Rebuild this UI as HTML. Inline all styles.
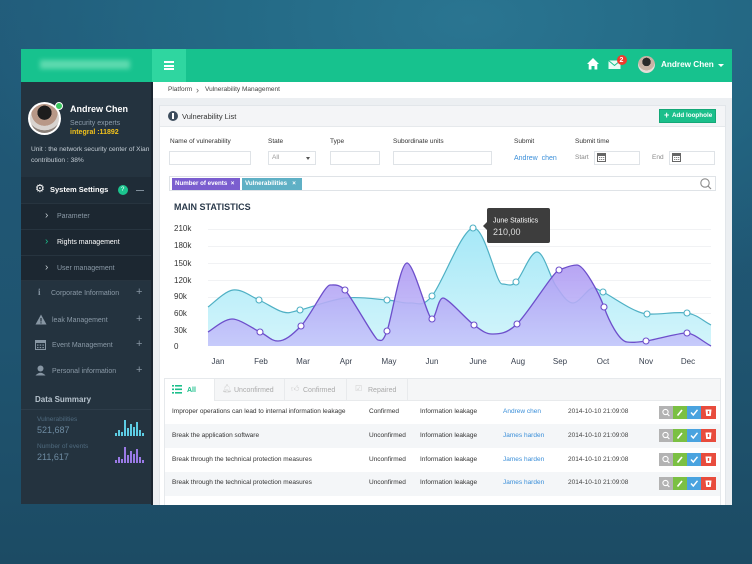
<!DOCTYPE html>
<html><head><meta charset="utf-8">
<style>
*{margin:0;padding:0;box-sizing:border-box}
html,body{width:752px;height:564px;overflow:hidden}
body{position:relative;font-family:"Liberation Sans",sans-serif;
background:radial-gradient(ellipse 520px 300px at 470px 20px,#2a7591 0%,#246a86 45%,rgba(33,90,118,0) 100%),
linear-gradient(180deg,#215a79 0%,#1f5470 60%,#1c4b64 100%);}
.a{position:absolute}
.t{position:absolute;white-space:nowrap;line-height:1}
.inp{position:absolute;background:#fff;border:1px solid #dfe3e7}
.row{position:absolute;left:165px;width:555px;height:24px}
</style></head><body>

<!-- header -->
<div class="a" style="left:21px;top:49px;width:711px;height:33px;background:#17c28e"></div>
<div class="a" style="left:40px;top:60px;width:90px;height:9px;background:#6fe0b7;filter:blur(2.5px);opacity:.8"></div>
<div class="a" style="left:152px;top:49px;width:34px;height:33px;background:#2fd6a0"></div>
<div class="a" style="left:164px;top:61px;width:10px;height:2px;background:#fff"></div>
<div class="a" style="left:164px;top:64.5px;width:10px;height:2px;background:#fff"></div>
<div class="a" style="left:164px;top:68px;width:10px;height:2px;background:#fff"></div>
<svg class="a" style="left:586px;top:57px" width="14" height="14" viewBox="0 0 14 14"><path d="M7 1 L13 7 L11.3 7 L11.3 12.5 L8.5 12.5 L8.5 9 L5.5 9 L5.5 12.5 L2.7 12.5 L2.7 7 L1 7 Z" fill="#fff"/></svg>
<svg class="a" style="left:608px;top:60px" width="14" height="10" viewBox="0 0 14 10"><rect x="0.5" y="0.5" width="12" height="8.5" fill="#e8fbf4"/><path d="M0.5 0.5 L6.5 5.5 L12.5 0.5" stroke="#17c28e" fill="none" stroke-width="1"/></svg>
<div class="a" style="left:617px;top:55px;width:10px;height:10px;border-radius:50%;background:#ef3b2d"></div>
<div class="t" style="left:619.5px;top:56.5px;font-size:7px;font-weight:bold;color:#fff">2</div>
<div class="a" style="left:638px;top:56px;width:17px;height:17px;border-radius:50%;background:radial-gradient(circle at 50% 35%,#2a2a2a 0 30%,#c9b3a5 31% 60%,#e5ddd8 61%)"></div>
<div class="t" style="left:661px;top:60.5px;font-size:8.2px;font-weight:bold;color:#fff">Andrew Chen</div>
<div class="a" style="left:718px;top:63.5px;width:0;height:0;border-left:3px solid transparent;border-right:3px solid transparent;border-top:3px solid #fff"></div>

<!-- sidebar -->
<div class="a" style="left:21px;top:82px;width:131px;height:422px;background:#24333f"></div>
<div class="a" style="left:151px;top:82px;width:2px;height:423px;background:#1a2530"></div>
<div class="a" style="left:28px;top:102px;width:33px;height:33px;border-radius:50%;background:#fff"></div>
<div class="a" style="left:30px;top:104px;width:29px;height:29px;border-radius:50%;background:radial-gradient(circle at 50% 30%,#1d1d1d 0 28%,#b89887 29% 52%,#d8d3cf 53% 70%,#8a8079 71%)"></div>
<div class="a" style="left:55px;top:102px;width:8px;height:8px;border-radius:50%;background:#39c75d;border:1.5px solid #fff"></div>
<div class="t" style="left:70px;top:104.5px;font-size:9px;font-weight:bold;color:#fff">Andrew Chen</div>
<div class="t" style="left:70px;top:119.5px;font-size:7px;color:#8d9dac">Security experts</div>
<div class="t" style="left:70px;top:128.5px;font-size:7px;font-weight:bold;color:#f2c21b">integral :11892</div>
<div class="t" style="left:31px;top:146.5px;font-size:6.6px;color:#c3ccd4">Unit : the network security center of Xian</div>
<div class="t" style="left:31px;top:157.5px;font-size:6.6px;color:#c3ccd4">contribution : 38%</div>

<div class="a" style="left:21px;top:177px;width:130px;height:26px;background:#1f2c37"></div>
<div class="a" style="left:21px;top:203px;width:130px;height:77px;background:#1c2731"></div>
<div class="a" style="left:21px;top:203px;width:130px;height:1px;background:#27343f"></div>
<div class="a" style="left:21px;top:229px;width:130px;height:1px;background:#27343f"></div>
<div class="a" style="left:21px;top:255px;width:130px;height:1px;background:#27343f"></div>
<div class="a" style="left:21px;top:280px;width:130px;height:1px;background:#27343f"></div>
<div class="t" style="left:35px;top:184px;font-size:11px;color:#fff">⚙</div>
<div class="t" style="left:50px;top:186px;font-size:7.5px;font-weight:bold;color:#fff">System Settings</div>
<div class="a" style="left:118px;top:185px;width:10px;height:10px;border-radius:50%;background:#1bc48e"></div>
<div class="t" style="left:121px;top:187px;font-size:6px;color:#fff">?</div>
<div class="a" style="left:136px;top:190px;width:8px;height:1px;background:#7f8e9a"></div>
<div class="t" style="left:45px;top:211px;font-size:10px;color:#c4ccd3">›</div>
<div class="t" style="left:57px;top:212.5px;font-size:7px;color:#8a99a6">Parameter</div>
<div class="t" style="left:45px;top:237px;font-size:10px;color:#1bc48e">›</div>
<div class="t" style="left:57px;top:238.5px;font-size:7px;color:#fff">Rights management</div>
<div class="t" style="left:45px;top:263px;font-size:10px;color:#c4ccd3">›</div>
<div class="t" style="left:57px;top:264.5px;font-size:7px;color:#8a99a6">User management</div>

<div class="t" style="left:38px;top:288px;font-size:9px;font-weight:bold;font-family:'Liberation Serif',serif;color:#8796a3">i</div>
<div class="t" style="left:51px;top:289.5px;font-size:7px;color:#8a99a6">Corporate Information</div>
<svg class="a" style="left:35px;top:314px" width="12" height="11"><path d="M6 0.5 L11.5 10.5 L0.5 10.5 Z" fill="#8796a3"/><rect x="5.4" y="4" width="1.2" height="3.5" fill="#24333f"/><rect x="5.4" y="8.3" width="1.2" height="1.2" fill="#24333f"/></svg>
<div class="t" style="left:52px;top:316.5px;font-size:7px;color:#8a99a6">leak Management</div>
<svg class="a" style="left:35px;top:339px" width="11" height="11"><rect x="0.5" y="1.5" width="10" height="9" fill="none" stroke="#8796a3"/><rect x="0.5" y="1.5" width="10" height="2.5" fill="#8796a3"/><g fill="#8796a3"><rect x="2" y="5.5" width="1.5" height="1.2"/><rect x="4.7" y="5.5" width="1.5" height="1.2"/><rect x="7.4" y="5.5" width="1.5" height="1.2"/><rect x="2" y="8" width="1.5" height="1.2"/><rect x="4.7" y="8" width="1.5" height="1.2"/><rect x="7.4" y="8" width="1.5" height="1.2"/></g></svg>
<div class="t" style="left:52px;top:341.5px;font-size:7px;color:#8a99a6">Event Management</div>
<svg class="a" style="left:35px;top:365px" width="11" height="11"><circle cx="5.5" cy="3.5" r="3" fill="#8796a3"/><path d="M0.5 10.5 Q5.5 5 10.5 10.5 Z" fill="#8796a3"/></svg>
<div class="t" style="left:52px;top:367.5px;font-size:7px;color:#8a99a6">Personal information</div>
<div class="t" style="left:136px;top:287px;font-size:11px;color:#8796a3">+</div>
<div class="t" style="left:136px;top:314px;font-size:11px;color:#8796a3">+</div>
<div class="t" style="left:136px;top:339px;font-size:11px;color:#8796a3">+</div>
<div class="t" style="left:136px;top:365px;font-size:11px;color:#8796a3">+</div>

<div class="t" style="left:35px;top:396px;font-size:8px;font-weight:bold;color:#b8c4ce">Data Summary</div>
<div class="a" style="left:21px;top:409px;width:130px;height:1px;background:#2e3d4a"></div>
<div class="t" style="left:37px;top:417px;font-size:6.5px;color:#4f6a7e">Vulnerabilities</div>
<div class="t" style="left:37px;top:425.5px;font-size:9px;color:#6d8aa0">521,687</div>
<div class="t" style="left:37px;top:444px;font-size:6.5px;color:#4f6a7e">Number of events</div>
<div class="t" style="left:37px;top:452.5px;font-size:9px;color:#6d8aa0">211,617</div>
<svg class="a" style="left:115px;top:418px" width="30" height="18"><g fill="#5dcde4"><rect x="0" y="15" width="2" height="3"/><rect x="3" y="12" width="2" height="6"/><rect x="6" y="14" width="2" height="4"/><rect x="9" y="2" width="2" height="16"/><rect x="12" y="10" width="2" height="8"/><rect x="15" y="6" width="2" height="12"/><rect x="18" y="9" width="2" height="9"/><rect x="21" y="4" width="2" height="14"/><rect x="24" y="12" width="2" height="6"/><rect x="27" y="15" width="2" height="3"/></g></svg>
<svg class="a" style="left:115px;top:445px" width="30" height="18"><g fill="#9a7ae6"><rect x="0" y="15" width="2" height="3"/><rect x="3" y="12" width="2" height="6"/><rect x="6" y="14" width="2" height="4"/><rect x="9" y="2" width="2" height="16"/><rect x="12" y="10" width="2" height="8"/><rect x="15" y="6" width="2" height="12"/><rect x="18" y="9" width="2" height="9"/><rect x="21" y="4" width="2" height="14"/><rect x="24" y="12" width="2" height="6"/><rect x="27" y="15" width="2" height="3"/></g></svg>

<!-- main area -->
<div class="a" style="left:153px;top:82px;width:579px;height:423px;background:#eceff2"></div>
<div class="a" style="left:153px;top:82px;width:579px;height:16px;background:#fff"></div>
<div class="t" style="left:168px;top:87px;font-size:6.5px;color:#444">Platform</div>
<div class="t" style="left:196px;top:85.5px;font-size:9px;color:#666">›</div>
<div class="t" style="left:205px;top:87px;font-size:6.5px;color:#444">Vulnerability Management</div>

<div class="a" style="left:159px;top:105px;width:567px;height:400px;background:#fff;border:1px solid #e2e6ea;border-bottom:none"></div>
<div class="a" style="left:160px;top:106px;width:565px;height:21px;background:#f4f5f7;border-bottom:1px solid #e6e9ec"></div>
<div class="a" style="left:168px;top:111px;width:10px;height:10px;border-radius:50%;background:#3d4d5d"></div>
<div class="a" style="left:172.3px;top:113px;width:1.5px;height:6px;background:#fff"></div>
<div class="t" style="left:182px;top:112.5px;font-size:7.5px;color:#333">Vulnerability List</div>
<div class="a" style="left:659px;top:109px;width:57px;height:14px;background:#1bbf8b;border:1px solid #14a877"></div>
<div class="t" style="left:664px;top:111px;font-size:9px;font-weight:bold;color:#fff">+</div>
<div class="t" style="left:672px;top:113px;font-size:6.3px;font-weight:bold;color:#fff">Add loophole</div>

<div class="t" style="left:170px;top:138.5px;font-size:6.5px;color:#333">Name of vulnerability</div>
<div class="t" style="left:268px;top:138.5px;font-size:6.5px;color:#333">State</div>
<div class="t" style="left:330px;top:138.5px;font-size:6.5px;color:#333">Type</div>
<div class="t" style="left:393px;top:138.5px;font-size:6.5px;color:#333">Subordinate units</div>
<div class="t" style="left:514px;top:138.5px;font-size:6.5px;color:#333">Submit</div>
<div class="t" style="left:575px;top:138.5px;font-size:6.5px;color:#333">Submit time</div>
<div class="inp" style="left:169px;top:151px;width:82px;height:14px"></div>
<div class="inp" style="left:268px;top:151px;width:48px;height:14px"></div>
<div class="t" style="left:272px;top:155px;font-size:6.5px;color:#999">All</div>
<div class="a" style="left:306px;top:157px;border-left:2.5px solid transparent;border-right:2.5px solid transparent;border-top:3px solid #555"></div>
<div class="inp" style="left:330px;top:151px;width:50px;height:14px"></div>
<div class="inp" style="left:393px;top:151px;width:99px;height:14px"></div>
<div class="t" style="left:514px;top:154.5px;font-size:7px;color:#3b8fd9">Andrew&nbsp; chen</div>
<div class="t" style="left:575px;top:155px;font-size:6.5px;color:#888">Start</div>
<div class="inp" style="left:594px;top:151px;width:46px;height:14px"></div>
<div class="t" style="left:652px;top:155px;font-size:6.5px;color:#888">End</div>
<div class="inp" style="left:669px;top:151px;width:46px;height:14px"></div>
<svg class="a" style="left:597px;top:153px" width="9" height="9"><rect x="0.5" y="0.5" width="8" height="8" fill="#fff" stroke="#666"/><rect x="0.5" y="0.5" width="8" height="2.5" fill="#666"/><g fill="#888"><rect x="2" y="4" width="1.3" height="1"/><rect x="4" y="4" width="1.3" height="1"/><rect x="6" y="4" width="1.3" height="1"/><rect x="2" y="6" width="1.3" height="1"/><rect x="4" y="6" width="1.3" height="1"/><rect x="6" y="6" width="1.3" height="1"/></g></svg>
<svg class="a" style="left:672px;top:153px" width="9" height="9"><rect x="0.5" y="0.5" width="8" height="8" fill="#fff" stroke="#666"/><rect x="0.5" y="0.5" width="8" height="2.5" fill="#666"/><g fill="#888"><rect x="2" y="4" width="1.3" height="1"/><rect x="4" y="4" width="1.3" height="1"/><rect x="6" y="4" width="1.3" height="1"/><rect x="2" y="6" width="1.3" height="1"/><rect x="4" y="6" width="1.3" height="1"/><rect x="6" y="6" width="1.3" height="1"/></g></svg>

<div class="inp" style="left:169px;top:176px;width:547px;height:15px"></div>
<div class="a" style="left:172px;top:178px;width:68px;height:12px;background:#7b5ecf"></div>
<div class="t" style="left:175px;top:180.5px;font-size:6.2px;font-weight:bold;color:#fff">Number of events&nbsp; ×</div>
<div class="a" style="left:242px;top:178px;width:60px;height:12px;background:#5fb0c5"></div>
<div class="t" style="left:245px;top:180.5px;font-size:6.2px;font-weight:bold;color:#fff">Vulnerabilities&nbsp;&nbsp; ×</div>
<svg class="a" style="left:699px;top:177px" width="13" height="13"><circle cx="6" cy="6" r="4.2" fill="none" stroke="#8a8a8a" stroke-width="1.1"/><path d="M9 9 L12 12" stroke="#8a8a8a" stroke-width="1.2"/></svg>

<!-- chart -->
<div class="t" style="left:174px;top:203px;font-size:9px;font-weight:bold;color:#2b3a4b">MAIN STATISTICS</div>
<div class="t" style="left:174px;top:225px;font-size:8px;color:#333">210k</div>
<div class="t" style="left:174px;top:242px;font-size:8px;color:#333">180k</div>
<div class="t" style="left:174px;top:259.5px;font-size:8px;color:#333">150k</div>
<div class="t" style="left:174px;top:276.5px;font-size:8px;color:#333">120k</div>
<div class="t" style="left:174px;top:293px;font-size:8px;color:#333">90k</div>
<div class="t" style="left:174px;top:310px;font-size:8px;color:#333">60k</div>
<div class="t" style="left:174px;top:327px;font-size:8px;color:#333">30k</div>
<div class="t" style="left:174px;top:343px;font-size:8px;color:#333">0</div>

<svg class="a" style="left:160px;top:195px" width="560" height="180" viewBox="160 195 560 180">
<defs>
<linearGradient id="gt" x1="0" y1="0" x2="0" y2="1"><stop offset="0" stop-color="#a6e8f7"/><stop offset="1" stop-color="#d3f5fb"/></linearGradient>
<linearGradient id="gp" x1="0" y1="0" x2="0" y2="1"><stop offset="0" stop-color="#ad97f2"/><stop offset="1" stop-color="#c4c5fb"/></linearGradient>
</defs>
<g stroke="#f1f2f4" stroke-width="1">
<line x1="208" y1="229.5" x2="711" y2="229.5"/><line x1="208" y1="246.5" x2="711" y2="246.5"/><line x1="208" y1="263.5" x2="711" y2="263.5"/><line x1="208" y1="280.5" x2="711" y2="280.5"/><line x1="208" y1="297.5" x2="711" y2="297.5"/><line x1="208" y1="313.5" x2="711" y2="313.5"/><line x1="208" y1="330.5" x2="711" y2="330.5"/>
</g>
<path d="M208,307 C212.2,304.2 224.5,291.2 233,290 C241.5,288.8 250.7,296.3 259,300 C267.3,303.7 276.2,310.3 283,312 C289.8,313.7 289.7,312.3 300,310 C310.3,307.7 330.5,299.7 345,298 C359.5,296.3 376.2,299.2 387,300 C397.8,300.8 402.5,303.7 410,303 C417.5,302.3 421.5,308.5 432,296 C442.5,283.5 461.3,230 473,228 C484.7,226 496,284 502,284 C508,284 510.2,287.3 516,282 C521.8,276.7 530,252 537,252 C544,252 550,277.5 556,286 C562,294.5 567,303 573,303 C579,303 588,288.5 592,288 C596,287.5 593.8,287.7 603,292 C612.2,296.3 634,313 647,314 C660,315 676.3,311.2 687,313 C697.7,314.8 703,321 711,325 L711,346 L208,346 Z" fill="url(#gt)"/>
<path d="M208,307 C212.2,304.2 224.5,291.2 233,290 C241.5,288.8 250.7,296.3 259,300 C267.3,303.7 276.2,310.3 283,312 C289.8,313.7 289.7,312.3 300,310 C310.3,307.7 330.5,299.7 345,298 C359.5,296.3 376.2,299.2 387,300 C397.8,300.8 402.5,303.7 410,303 C417.5,302.3 421.5,308.5 432,296 C442.5,283.5 461.3,230 473,228 C484.7,226 496,284 502,284 C508,284 510.2,287.3 516,282 C521.8,276.7 530,252 537,252 C544,252 550,277.5 556,286 C562,294.5 567,303 573,303 C579,303 588,288.5 592,288 C596,287.5 593.8,287.7 603,292 C612.2,296.3 634,313 647,314 C660,315 676.3,311.2 687,313 C697.7,314.8 703,321 711,325" fill="none" stroke="#4fb0c4" stroke-width="1.2"/>
<path d="M208,332 C212,329.8 224,319 232,319 C240,319 252.3,328.3 260,332 C267.7,335.7 271,341 278,341 C285,341 292,335.2 301,326 C310,316.8 325,285 330,285 C335,285 339,284 345,290 C351,296 375,340 378,340 C381,340 382.2,343.8 387,331 C391.8,318.2 400,263 407,263 C414,263 428,320 432,319 C436,318 438,298 443,298 C448,298 465.8,319 474,325 C482.2,331 486,334 492,334 C498,334 505.8,334.7 517,324 C528.2,313.3 553,272 559,270 C565,268 570,265 577,265 C584,265 599,293 604,307 C609,321 619,341 627,342 C635,343 638,342 646,341 C654,340 680,332.5 687,333 C694,333.5 703,341.7 711,346 L208,346 Z" fill="url(#gp)" fill-opacity="0.88"/>
<path d="M208,332 C212,329.8 224,319 232,319 C240,319 252.3,328.3 260,332 C267.7,335.7 271,341 278,341 C285,341 292,335.2 301,326 C310,316.8 325,285 330,285 C335,285 339,284 345,290 C351,296 375,340 378,340 C381,340 382.2,343.8 387,331 C391.8,318.2 400,263 407,263 C414,263 428,320 432,319 C436,318 438,298 443,298 C448,298 465.8,319 474,325 C482.2,331 486,334 492,334 C498,334 505.8,334.7 517,324 C528.2,313.3 553,272 559,270 C565,268 570,265 577,265 C584,265 599,293 604,307 C609,321 619,341 627,342 C635,343 638,342 646,341 C654,340 680,332.5 687,333 C694,333.5 703,341.7 711,346" fill="none" stroke="#6d4fcb" stroke-width="1.3"/>
<g fill="#fff" stroke="#4fb0c4" stroke-width="1.1">
<circle cx="259" cy="300" r="3"/><circle cx="300" cy="310" r="3"/><circle cx="387" cy="300" r="3"/><circle cx="432" cy="296" r="3"/><circle cx="473" cy="228" r="3"/><circle cx="516" cy="282" r="3"/><circle cx="603" cy="292" r="3"/><circle cx="647" cy="314" r="3"/><circle cx="687" cy="313" r="3"/>
</g>
<g fill="#fff" stroke="#6d4fcb" stroke-width="1.1">
<circle cx="260" cy="332" r="3"/><circle cx="301" cy="326" r="3"/><circle cx="345" cy="290" r="3"/><circle cx="387" cy="331" r="3"/><circle cx="432" cy="319" r="3"/><circle cx="474" cy="325" r="3"/><circle cx="517" cy="324" r="3"/><circle cx="559" cy="270" r="3"/><circle cx="604" cy="307" r="3"/><circle cx="646" cy="341" r="3"/><circle cx="687" cy="333" r="3"/>
</g>
<path d="M489,208 L548,208 Q550,208 550,210 L550,241 Q550,243 548,243 L489,243 Q487,243 487,241 L487,230 L483,226 L487,222 L487,210 Q487,208 489,208 Z" fill="#3d3d3d"/>
<text x="493" y="222.5" font-family="Liberation Sans, sans-serif" font-size="7" fill="#fff">June Statistics</text>
<text x="493" y="235" font-family="Liberation Sans, sans-serif" font-size="9" fill="#ddd">210,00</text>
<g font-family="Liberation Sans, sans-serif" font-size="8" fill="#3a4250" text-anchor="middle">
<text x="218" y="364">Jan</text><text x="261" y="364">Feb</text><text x="303" y="364">Mar</text><text x="346" y="364">Apr</text><text x="389" y="364">May</text><text x="432" y="364">Jun</text><text x="478" y="364">June</text><text x="518" y="364">Aug</text><text x="560" y="364">Sep</text><text x="603" y="364">Oct</text><text x="646" y="364">Nov</text><text x="688" y="364">Dec</text>
</g>
</svg>

<!-- table -->
<div class="a" style="left:164px;top:378px;width:557px;height:127px;border:1px solid #e6e9ec;border-bottom:none;background:#fff"></div>
<div class="a" style="left:165px;top:379px;width:555px;height:22px;background:#f5f6f7;border-bottom:1px solid #e8eaec"></div>
<div class="a" style="left:165px;top:379px;width:50px;height:23px;background:#fff;border-right:1px solid #e8eaec"></div>
<div class="a" style="left:284px;top:379px;width:1px;height:22px;background:#e8eaec"></div>
<div class="a" style="left:346px;top:379px;width:1px;height:22px;background:#e8eaec"></div>
<div class="a" style="left:407px;top:379px;width:1px;height:22px;background:#e8eaec"></div>
<svg class="a" style="left:172px;top:385px" width="10" height="9"><g fill="#1bbf8b"><rect x="0" y="0" width="2" height="1.6"/><rect x="3" y="0" width="7" height="1.6"/><rect x="0" y="3.5" width="2" height="1.6"/><rect x="3" y="3.5" width="7" height="1.6"/><rect x="0" y="7" width="2" height="1.6"/><rect x="3" y="7" width="7" height="1.6"/></g></svg>
<div class="t" style="left:187px;top:386.5px;font-size:7px;font-weight:bold;color:#1bbf8b">All</div>
<div class="t" style="left:222px;top:385px;font-size:8px;color:#d0d0d0">🔔&#xFE0E;</div>
<div class="t" style="left:234px;top:386.5px;font-size:7px;color:#aaa">Unconfirmed</div>
<div class="t" style="left:291px;top:385px;font-size:8px;color:#d0d0d0">👍&#xFE0E;</div>
<div class="t" style="left:303px;top:386.5px;font-size:7px;color:#aaa">Confirmed</div>
<div class="t" style="left:355px;top:385px;font-size:8px;color:#d0d0d0">☑</div>
<div class="t" style="left:368px;top:386.5px;font-size:7px;color:#aaa">Repaired</div>

<div class="row" style="top:401px;background:#fff"></div>
<div class="row" style="top:424px;background:#f4f6f8"></div>
<div class="row" style="top:448px;background:#fff"></div>
<div class="row" style="top:472px;background:#f4f6f8"></div>

<div class="t" style="left:172px;top:409px;font-size:6.5px;color:#333">Improper operations can lead to internal information leakage</div>
<div class="t" style="left:369px;top:409px;font-size:6.5px;color:#333">Confirmed</div>
<div class="t" style="left:420px;top:409px;font-size:6.5px;color:#333">Information leakage</div>
<div class="t" style="left:503px;top:409px;font-size:6.5px;color:#3b8fd9">Andrew chen</div>
<div class="t" style="left:568px;top:409px;font-size:6.5px;color:#444">2014-10-10 21:09:08</div>

<div class="t" style="left:172px;top:433px;font-size:6.5px;color:#333">Break the application software</div>
<div class="t" style="left:369px;top:433px;font-size:6.5px;color:#333">Unconfirmed</div>
<div class="t" style="left:420px;top:433px;font-size:6.5px;color:#333">Information leakage</div>
<div class="t" style="left:503px;top:433px;font-size:6.5px;color:#3b8fd9">James harden</div>
<div class="t" style="left:568px;top:433px;font-size:6.5px;color:#444">2014-10-10 21:09:08</div>

<div class="t" style="left:172px;top:457px;font-size:6.5px;color:#333">Break through the technical protection measures</div>
<div class="t" style="left:369px;top:457px;font-size:6.5px;color:#333">Unconfirmed</div>
<div class="t" style="left:420px;top:457px;font-size:6.5px;color:#333">Information leakage</div>
<div class="t" style="left:503px;top:457px;font-size:6.5px;color:#3b8fd9">James harden</div>
<div class="t" style="left:568px;top:457px;font-size:6.5px;color:#444">2014-10-10 21:09:08</div>

<div class="t" style="left:172px;top:480px;font-size:6.5px;color:#333">Break through the technical protection measures</div>
<div class="t" style="left:369px;top:480px;font-size:6.5px;color:#333">Unconfirmed</div>
<div class="t" style="left:420px;top:480px;font-size:6.5px;color:#333">Information leakage</div>
<div class="t" style="left:503px;top:480px;font-size:6.5px;color:#3b8fd9">James harden</div>
<div class="t" style="left:568px;top:480px;font-size:6.5px;color:#444">2014-10-10 21:09:08</div>

<svg class="a" style="left:659px;top:406px" width="57" height="85" viewBox="0 0 57 85">
<defs><g id="bset">
<rect x="0" y="0" width="14" height="13" fill="#b3b3b3"/>
<rect x="14" y="0" width="14" height="13" fill="#7bc043"/>
<rect x="28" y="0" width="14" height="13" fill="#4aa3df"/>
<rect x="42" y="0" width="15" height="13" fill="#e84c3d"/>
<circle cx="6.5" cy="6" r="2.6" fill="none" stroke="#fff" stroke-width="1.1"/><path d="M8.4 8 L10.4 10" stroke="#fff" stroke-width="1.2"/>
<path d="M18.5 9.5 L23 4" stroke="#fff" stroke-width="1.6"/>
<path d="M32 6.5 L34.3 9 L38.5 3.8" stroke="#fff" stroke-width="1.4" fill="none"/>
<path d="M46.5 3.5 L52.5 3.5 L51.8 10 L47.2 10 Z" fill="#fff"/><rect x="48.8" y="5" width="1.4" height="3" fill="#e84c3d"/>
</g></defs>
<use href="#bset" x="0" y="0"/>
<use href="#bset" x="0" y="23"/>
<use href="#bset" x="0" y="47"/>
<use href="#bset" x="0" y="71"/>
</svg>

</body></html>
